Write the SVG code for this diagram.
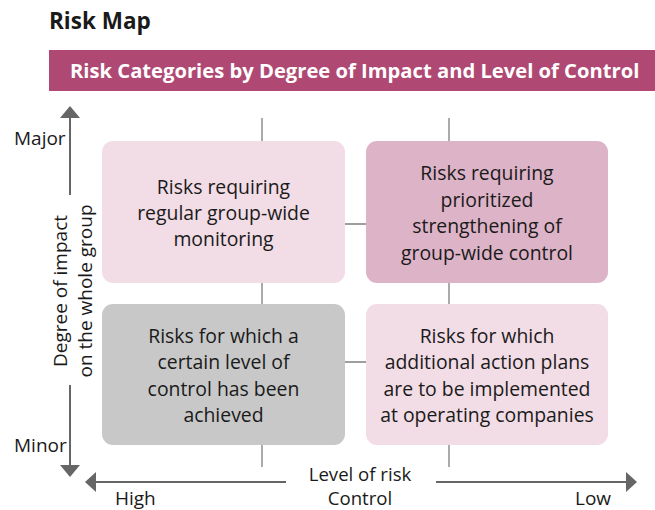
<svg xmlns="http://www.w3.org/2000/svg" width="655" height="510" viewBox="0 0 655 510">
<style>
text{font-family:"Open Sans","Noto Sans","Liberation Sans",sans-serif;fill:#1a1a1a}
.t{font-size:19.4px;text-anchor:middle}
.ax{font-size:19px}
.tick{stroke:#7f7f7f;stroke-width:1.3;fill:none}
.arr{stroke:#666;stroke-width:2;fill:none}
.ah{fill:#666}
</style>
<rect width="655" height="510" fill="#fff"/>
<text x="49" y="29" style="font-size:22.5px;font-weight:bold">Risk Map</text>
<rect x="49" y="50" width="606" height="41" fill="#AF4873"/>
<text x="70" y="78" style="font-size:20.2px;font-weight:bold;fill:#fff">Risk Categories by Degree of Impact and Level of Control</text>

<g id="connectors">
<path class="tick" d="M262 118V141M262 283V304M262 445V467M449 118V141M449 283V304M449 445V467M345 224H366M345 362H366"/>
<path class="arr" d="M70 117V195M70 385V466M95 482H286M436 482H626"/>
<polygon class="ah" points="60,118 80,118 70,106"/>
<polygon class="ah" points="60,465 80,465 70,477"/>
<polygon class="ah" points="96,472 96,492 85,482"/>
<polygon class="ah" points="626,472 626,492 637,482"/>
</g>

<g id="node-tl">
<rect x="102" y="141" width="243" height="142" rx="11" fill="#F2DDE6"/>
<text class="t" x="223.5" y="194">Risks requiring</text>
<text class="t" x="223.5" y="220">regular group-wide</text>
<text class="t" x="223.5" y="246">monitoring</text>
</g>
<g id="node-tr">
<rect x="366" y="141" width="242" height="142" rx="11" fill="#DDB3C7"/>
<text class="t" x="487" y="180">Risks requiring</text>
<text class="t" x="487" y="207">prioritized</text>
<text class="t" x="487" y="233">strengthening of</text>
<text class="t" x="487" y="260">group-wide control</text>
</g>
<g id="node-bl">
<rect x="102" y="304" width="243" height="141" rx="11" fill="#C8C8C8"/>
<text class="t" x="223.5" y="343">Risks for which a</text>
<text class="t" x="223.5" y="369">certain level of</text>
<text class="t" x="223.5" y="396">control has been</text>
<text class="t" x="223.5" y="422">achieved</text>
</g>
<g id="node-br">
<rect x="366" y="304" width="242" height="141" rx="11" fill="#F2DDE6"/>
<text class="t" x="487" y="343">Risks for which</text>
<text class="t" x="487" y="369">additional action plans</text>
<text class="t" x="487" y="396">are to be implemented</text>
<text class="t" x="487" y="422">at operating companies</text>
</g>

<g id="axis-labels">
<text class="ax" x="14" y="145">Major</text>
<text class="ax" x="14" y="452">Minor</text>
<text class="ax" x="115" y="505">High</text>
<text class="ax" x="575" y="505">Low</text>
<text class="ax" x="360" y="481" text-anchor="middle" style="font-size:18.6px">Level of risk</text>
<text class="ax" x="360" y="505" text-anchor="middle" style="font-size:18.6px">Control</text>
<text class="ax" transform="translate(67 291) rotate(-90)" text-anchor="middle">Degree of impact</text>
<text class="ax" transform="translate(92 291) rotate(-90)" text-anchor="middle">on the whole group</text>
</g>
</svg>
